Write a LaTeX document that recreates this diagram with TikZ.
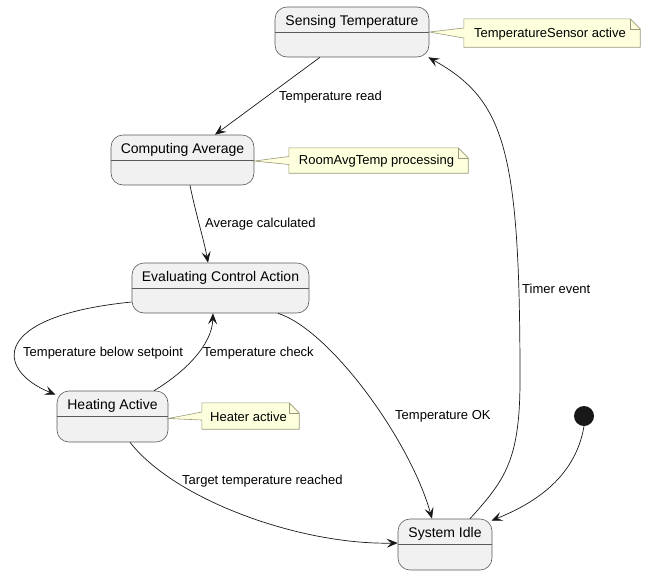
\documentclass[tikz,border=0pt]{standalone}
\usepackage{fontspec}
\setmainfont{Liberation Sans}
\usetikzlibrary{arrows.meta}
\definecolor{stfill}{HTML}{F1F1F1}
\definecolor{stdraw}{HTML}{5A5A5A}
\definecolor{notefill}{HTML}{FEFFDD}
\definecolor{notedraw}{HTML}{9A9A7A}
\definecolor{edgecol}{HTML}{181818}
\tikzset{
  statebox/.style={draw=stdraw, fill=stfill, line width=0.6pt, rounded corners=12pt, inner sep=0pt},
  stitle/.style={inner sep=0pt, font=\fontsize{14}{16}\selectfont},
  divider/.style={draw=stdraw, line width=0.6pt},
  notetext/.style={inner sep=0pt, font=\fontsize{13}{15}\selectfont},
  noteshape/.style={draw=notedraw, fill=notefill, line width=0.6pt, line join=miter},
  elabel/.style={inner sep=0pt, font=\fontsize{13}{15}\selectfont},
  trans/.style={draw=edgecol, line width=0.7pt, -{Stealth[length=11pt,width=9pt,inset=4.5pt]}},
}
\newcommand{\mystate}[5]{%
  \node[statebox, minimum width=#3pt, minimum height=#4pt] (#1) at (#2) {};
  \node[stitle] (#1T) at ([yshift=-15pt]#1.north) {#5};
  \draw[divider] ([yshift=-26pt]#1.north west) -- ([yshift=-26pt]#1.north east);
}
\newcommand{\mynote}[7]{%
  \node[notetext, minimum width=#3pt, minimum height=#4pt] (#1) at (#2) {};
  \draw[noteshape] (#1.north west) -- ([xshift=-10pt]#1.north east) -- ([yshift=-10pt]#1.north east)
    -- (#1.south east) -- (#1.south west) -- ([yshift=-#6pt]#1.west) -- (#5) -- ([yshift=#6pt]#1.west) -- cycle;
  \draw[noteshape, fill=none] ([xshift=-10pt]#1.north east) -- ([xshift=-10pt,yshift=-10pt]#1.north east) -- ([yshift=-10pt]#1.north east);
  \node[notetext] (#1T) at ([xshift=-2pt,yshift=-1pt]#1) {#7};
}
\begin{document}
\begin{tikzpicture}[x=1pt, y=-1pt]
\useasboundingbox (0,0) rectangle (645,574);

\mystate{sense}{352,32}{154}{50}{Sensing Temperature}
\mystate{comp}{182.5,160}{143}{50}{Computing Average}
\mystate{eval}{220.5,288}{177}{50}{Evaluating Control Action}
\mystate{heat}{112.5,416.5}{111}{51}{Heating Active}
\mystate{idle}{445,544.5}{94}{51}{System Idle}

\node[circle, fill=edgecol, minimum size=20pt, inner sep=0pt] (init) at (584,416) {};

\mynote{n1}{552,33}{176}{28}{sense.east}{5}{TemperatureSensor active}
\mynote{n2}{378.5,160.5}{179}{25}{[yshift=-1pt]comp.east}{4}{RoomAvgTemp processing}
\mynote{n3}{250.5,416}{97}{26}{[yshift=-2pt]heat.east}{4}{Heater active}

% transitions
\draw[trans] ([xshift=-32pt]sense.south) -- ([xshift=32.5pt]comp.north);
\draw[trans] ([xshift=7.5pt]comp.south) .. controls (196,215) and (204,240) .. ([xshift=-12.5pt]eval.north);
\draw[trans] ([yshift=-14pt]eval.west) .. controls (-10,316) and (-5,370) .. ([xshift=-1pt,yshift=-4pt]heat.north west);
\draw[trans] ([xshift=41.5pt]heat.north) .. controls (185,372) and (212,345) .. ([xshift=-7.5pt]eval.south);
\draw[trans] ([xshift=57.5pt]eval.south) .. controls (330,330) and (410,440) .. ([xshift=-13pt]idle.north);
\draw[trans] ([xshift=17.5pt]heat.south) .. controls (175,500) and (300,545) .. ([yshift=1.5pt]idle.west);
\draw[trans] ([xshift=25pt]idle.north) .. controls (505,480) and (520,460) .. (520,380)
  .. controls (520,150) and (505,100) .. ([xshift=-1pt]sense.south east);
\draw[trans] (init.south) .. controls (575,480) and (530,505) .. ([xshift=-1pt,yshift=-2pt]idle.north east);

% labels
\node[elabel, anchor=west] (l1) at (279,97) {Temperature read};
\node[elabel, anchor=west] (l2) at (205,224) {Average calculated};
\node[elabel, anchor=west] (l3) at (23,353) {Temperature below setpoint};
\node[elabel, anchor=west] (l4) at (203,353) {Temperature check};
\node[elabel, anchor=west] (l5) at (395,416) {Temperature OK};
\node[elabel, anchor=west] (l6) at (182,481) {Target temperature reached};
\node[elabel, anchor=west] (l7) at (522,289) {Timer event};
\end{tikzpicture}
\end{document}
